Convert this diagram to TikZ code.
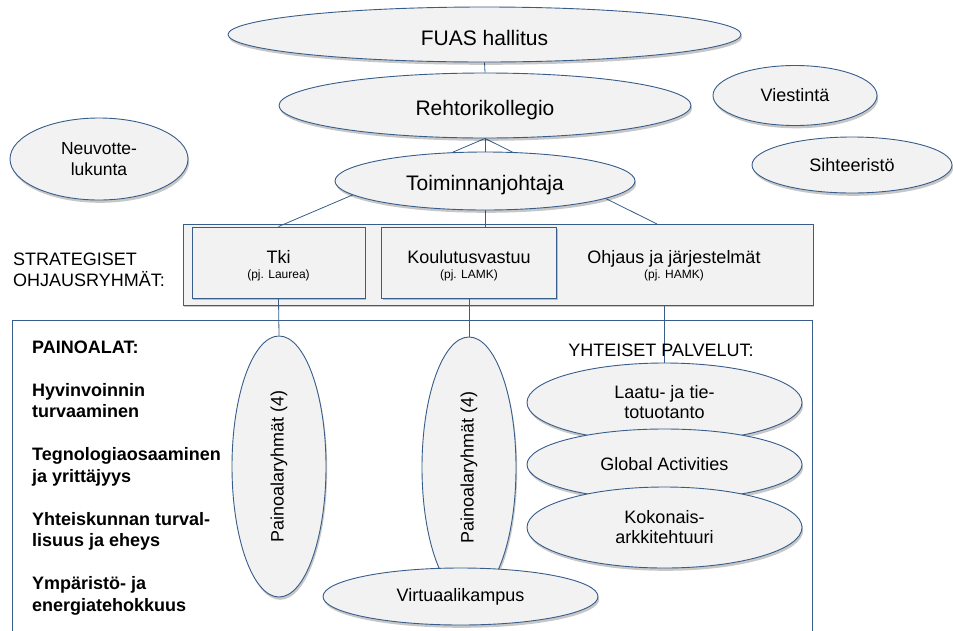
\documentclass[tikz,border=0pt]{standalone}
\usepackage{fontspec}
\setmainfont{Liberation Sans}
\usetikzlibrary{shapes.geometric,shadows}
\definecolor{bord}{RGB}{56,93,138}
\definecolor{fillg}{RGB}{242,242,242}
\pgfdeclarelayer{boxes}
\pgfdeclarelayer{lines}
\pgfsetlayers{boxes,lines,main}
\newcommand{\myfs}[2]{\fontsize{#1}{#2}\selectfont}
\begin{document}
\begin{tikzpicture}[x=1pt,y=-1pt,
  ell/.style={ellipse, draw=bord, fill=fillg, line width=0.9pt, inner sep=0pt, align=center,
     font=\myfs{18}{20},
     drop shadow={shadow xshift=1.2pt, shadow yshift=-2.8pt, fill=black, opacity=0.22}},
  sbox/.style={rectangle, draw=bord, fill=fillg, line width=0.9pt, inner sep=0pt,
     drop shadow={shadow xshift=1.2pt, shadow yshift=-2.2pt, fill=black, opacity=0.22}},
  conn/.style={draw=bord, line width=0.8pt},
  bigt/.style={font=\myfs{21}{24}, text height=19pt, text depth=0pt},
  txt/.style={inner sep=0pt, anchor=base, font=\myfs{18}{20}},
  small/.style={inner sep=0pt, anchor=base, font=\myfs{12}{14}},
]
\useasboundingbox (0,0) rectangle (953,630);

\begin{pgfonlayer}{boxes}
\node[rectangle, draw=bord, line width=0.9pt, fill=white, minimum width=800pt, minimum height=340pt, inner sep=0pt] (lower) at (412,490) {};
\node[sbox, minimum width=630pt, minimum height=81pt] (strat) at (498,264.5) {};
\node[sbox, minimum width=173pt, minimum height=71pt] (tki) at (278.5,262.5) {};
\node[sbox, minimum width=175pt, minimum height=71pt] (koul) at (469,262.5) {};
\end{pgfonlayer}

% text in strategy boxes
\node[txt] (tkit) at (278.5,263) {Tki};
\node[small] (tkip) at (278.5,278) {(pj. Laurea)};
\node[txt] (koult) at (469,263) {Koulutusvastuu};
\node[small] (koulp) at (469,278) {(pj. LAMK)};
\node[txt] (ohjt) at (674,263) {Ohjaus ja järjestelmät};
\node[small] (ohjp) at (674,278) {(pj. HAMK)};

\node[inner sep=0pt, anchor=north west, align=left, font=\myfs{18}{21}] (strlab) at (13,252.5) {STRATEGISET\\OHJAUSRYHMÄT:};

% top ellipses
\node[ell, bigt, text height=21pt, minimum width=513pt, minimum height=55pt] (fuas) at (484.5,34.5) {FUAS hallitus};
\node[ell, bigt, text height=20pt, minimum width=412pt, minimum height=65pt] (rk) at (485,105.5) {Rehtorikollegio};
\node[ell, bigt, minimum width=300pt, minimum height=58pt] (tj) at (485,181) {Toiminnanjohtaja};
\node[ell, font=\myfs{17.5}{20.5}, minimum width=178pt, minimum height=82pt] (neuv) at (99,159) {Neuvotte-\\lukunta};
\node[ell, minimum width=164pt, minimum height=60pt] (viest) at (795,95.5) {Viestintä};
\node[ell, minimum width=200pt, minimum height=56pt] (siht) at (852,165) {Sihteeristö};

% lower part
\node[inner sep=0pt, anchor=north west, align=left, font=\bfseries\myfs{18}{21.5}] (painoalat) at (32,340.6)
  {PAINOALAT:\\[21.5pt]Hyvinvoinnin\\turvaaminen\\[21.5pt]Tegnologiaosaaminen\\ja yrittäjyys\\[21.5pt]Yhteiskunnan turval-\\lisuus ja eheys\\[21.5pt]Ympäristö- ja\\energiatehokkuus};

\node[ell, rotate=90, minimum width=261pt, minimum height=94pt] (pa1) at (279,466.5) {Painoalaryhmät (4)};
\node[ell, rotate=90, minimum width=261pt, minimum height=94pt] (pa2) at (469,467.5) {Painoalaryhmät (4)};
\node[ell, minimum width=275pt, minimum height=57pt] (virt) at (460.5,596.5) {Virtuaalikampus};

\node[txt] (yht) at (661,356.5) {YHTEISET PALVELUT:};
\node[ell, minimum width=275pt, minimum height=79pt] (laatu) at (664.5,402.5) {Laatu- ja tie-\\totuotanto};
\node[ell, minimum width=275pt, minimum height=71pt] (glob) at (664.5,464.5) {Global Activities};
\node[ell, minimum width=275pt, minimum height=81pt] (kok) at (664.5,527.5) {Kokonais-\\arkkitehtuuri};

% connectors
\coordinate (sr) at (657,224);
\begin{pgfonlayer}{lines}
\draw[conn] (fuas.south) -- (rk.north);
\draw[conn] (rk.south) -- (tki.north);
\draw[conn] (rk.south) -- (rk.south |- koul.north);
\draw[conn] (rk.south) -- (sr);
\draw[conn] (tki.south) -- (pa1.east);
\draw[conn] (koul.south) -- (pa2.east);
\draw[conn] (laatu.north |- strat.south) -- (laatu.north);
\end{pgfonlayer}
\end{tikzpicture}
\end{document}
